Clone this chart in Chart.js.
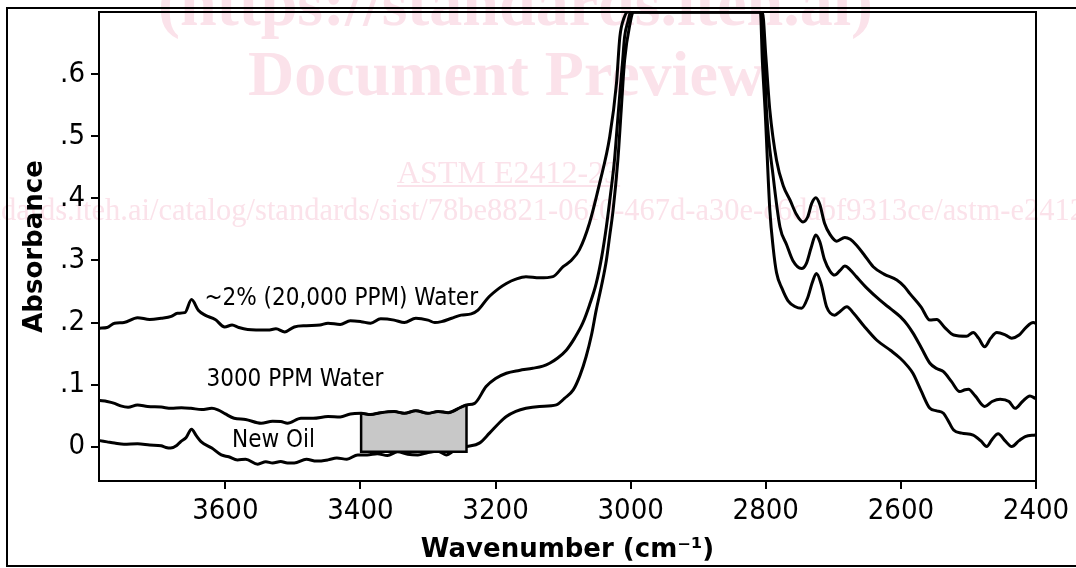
<!DOCTYPE html>
<html><head><meta charset="utf-8">
<script src="https://cdn.jsdelivr.net/npm/chart.js@4.4.0/dist/chart.umd.min.js"></script>
<style>
html,body{margin:0;padding:0;background:#fff;}
#wrap{position:relative;width:1076px;height:568px;overflow:hidden;background:#fff;}
#frame{position:absolute;left:6px;top:7px;width:1100px;height:556px;border:2px solid #000;pointer-events:none;}
canvas{position:absolute;left:0;top:0;}
</style></head><body>
<div id="wrap"><canvas id="c" width="1076" height="568"></canvas><div id="frame"></div></div>
<script>
// ---- tick labels ----
const xTickValues = [3600, 3400, 3200, 3000, 2800, 2600, 2400];
const xTickLabels = ['3600', '3400', '3200', '3000', '2800', '2600', '2400'];
const yTickValues = [0, 0.1, 0.2, 0.3, 0.4, 0.5, 0.6];
const yTickLabels = ['0', '.1', '.2', '.3', '.4', '.5', '.6'];

// ---- ~2% (20,000 PPM) water ----
const water2pctX = [3786,3775,3764,3750,3730,3712,3695,3680,3671,3660,3650,3640,3630,3615,3601,3590,3580,3567,3537,3525,3512,3498,3480,3460,3448,3430,3415,3399,3385,3370,3350,3335,3318,3300,3290,3280,3265,3251,3236,3226,3211,3195,3184,3170,3155,3135,3115,3100,3088,3076,3061,3046,3031,3021,3016,3010,3004,2805,2800,2794,2784,2774,2764,2755,2745,2738,2732,2726,2720,2713,2705,2695,2683,2675,2666,2655,2641,2625,2606,2595,2587,2570,2557,2547,2535,2522,2503,2493,2485,2476,2467,2458,2445,2436,2425,2415,2404,2400];
const water2pctY = [0.191,0.192,0.199,0.200,0.208,0.205,0.207,0.210,0.215,0.216,0.237,0.220,0.212,0.205,0.193,0.196,0.192,0.189,0.188,0.190,0.185,0.193,0.195,0.196,0.199,0.197,0.203,0.2015,0.199,0.206,0.204,0.200,0.207,0.204,0.200,0.2015,0.207,0.212,0.214,0.220,0.240,0.255,0.263,0.270,0.274,0.272,0.274,0.290,0.300,0.317,0.360,0.424,0.499,0.585,0.660,0.690,0.700,0.700,0.630,0.542,0.461,0.420,0.397,0.375,0.362,0.370,0.392,0.401,0.390,0.360,0.342,0.331,0.337,0.334,0.325,0.310,0.290,0.278,0.2685,0.258,0.247,0.225,0.204,0.205,0.192,0.180,0.178,0.184,0.175,0.161,0.175,0.184,0.180,0.175,0.180,0.192,0.200,0.199];

// ---- 3000 PPM water ----
const water3000X = [3786,3775,3764,3755,3744,3730,3715,3695,3680,3665,3651,3635,3620,3611,3600,3587,3570,3547,3530,3518,3508,3488,3470,3448,3430,3415,3399,3385,3370,3350,3335,3318,3300,3285,3270,3251,3243,3231,3214,3200,3184,3165,3145,3130,3120,3108,3095,3083,3071,3061,3051,3043,3036,3030,3024,3020,3016,3012,3009,3004,3000,2806,2802,2799,2789,2779,2769,2760,2747,2740,2733,2726,2720,2713,2705,2698,2690,2683,2675,2666,2650,2631,2615,2601,2590,2582,2570,2557,2547,2537,2525,2513,2505,2500,2490,2476,2465,2453,2440,2431,2420,2409,2401];
const water3000Y = [0.0745,0.073,0.070,0.066,0.0638,0.0675,0.065,0.064,0.062,0.063,0.062,0.060,0.062,0.0595,0.053,0.046,0.044,0.038,0.041,0.0407,0.038,0.046,0.046,0.0487,0.048,0.053,0.054,0.052,0.055,0.0568,0.054,0.058,0.054,0.057,0.055,0.064,0.0675,0.070,0.097,0.110,0.1185,0.123,0.1265,0.130,0.1346,0.143,0.156,0.175,0.199,0.228,0.263,0.305,0.354,0.405,0.461,0.515,0.569,0.620,0.660,0.685,0.700,0.700,0.620,0.542,0.435,0.354,0.325,0.300,0.287,0.295,0.320,0.341,0.330,0.301,0.283,0.2765,0.284,0.291,0.285,0.274,0.255,0.236,0.222,0.2095,0.196,0.183,0.160,0.1346,0.126,0.121,0.105,0.089,0.092,0.0927,0.082,0.065,0.073,0.0767,0.073,0.062,0.073,0.082,0.078];

// ---- New oil ----
const newOilX = [3786,3775,3764,3750,3730,3712,3695,3688,3681,3672,3666,3658,3650,3643,3636,3620,3606,3595,3582,3570,3552,3540,3530,3518,3508,3498,3480,3465,3448,3435,3420,3404,3390,3375,3360,3345,3330,3315,3300,3285,3273,3260,3243,3224,3209,3195,3184,3170,3155,3135,3110,3098,3085,3075,3066,3058,3051,3043,3036,3031,3026,3019,3014,3009,3001,2996,2808,2805,2801,2794,2789,2784,2776,2767,2757,2747,2738,2731,2725,2718,2710,2698,2690,2680,2670,2655,2636,2615,2601,2590,2582,2570,2557,2547,2537,2530,2522,2510,2493,2482,2473,2465,2456,2446,2436,2425,2416,2401];
const newOilY = [0.010,0.008,0.006,0.004,0.005,0.003,0.0016,-0.001,-0.002,0.002,0.0085,0.015,0.0284,0.018,0.0085,-0.002,-0.013,-0.016,-0.021,-0.020,-0.028,-0.024,-0.026,-0.0236,-0.026,-0.026,-0.020,-0.023,-0.021,-0.018,-0.020,-0.013,-0.013,-0.011,-0.014,-0.008,-0.012,-0.013,-0.009,-0.007,-0.013,-0.005,0.0005,0.006,0.022,0.038,0.0487,0.057,0.062,0.065,0.0675,0.078,0.0916,0.115,0.145,0.180,0.220,0.260,0.300,0.340,0.381,0.461,0.542,0.622,0.681,0.700,0.700,0.620,0.542,0.381,0.320,0.280,0.255,0.235,0.226,0.223,0.240,0.265,0.279,0.262,0.2256,0.212,0.218,0.2256,0.215,0.195,0.172,0.155,0.1426,0.130,0.118,0.090,0.062,0.058,0.054,0.042,0.027,0.022,0.019,0.010,0.0005,0.012,0.021,0.010,0.0005,0.010,0.0166,0.019];

// ---- shaded measurement region ----
const boxStart = 3399;
const boxEnd = 3243;
const boxBottom = -0.008;

// ---- curve labels ----
const curveLabels = ['~2% (20,000 PPM) Water', '3000 PPM Water', 'New Oil'];
const curveLabelX = [3631, 3628, 3590];
const curveLabelY = [0.228, 0.098, 0.0005];

// ---- watermark text ----
const wmLine1 = '(https://standards.iteh.ai)';
const wmLine2 = 'Document Preview';
const wmLine3 = 'ASTM E2412-23';
const wmPrefix = 'https://standards.iteh.ai';
const wmLine4 = 'https://standards.iteh.ai/catalog/standards/sist/78be8821-06f0-467d-a30e-c6dabf9313ce/astm-e2412-23';

const zip = (xs, ys) => xs.map((x, i) => ({x: x, y: ys[i]}));
const boxIdx = water3000X.map((x, i) => i).filter(i => water3000X[i] <= boxStart && water3000X[i] >= boxEnd);
const boxTop = boxIdx.map(i => ({x: water3000X[i], y: water3000Y[i]}));
const boxOutline = [
  {x: boxStart, y: boxTop[0].y}, {x: boxStart, y: boxBottom},
  {x: boxEnd, y: boxBottom}, {x: boxEnd, y: boxTop[boxTop.length - 1].y}
];

const tickFamily = "'DejaVu Sans Condensed', 'DejaVu Sans', sans-serif";
const PINK = 'rgb(251,226,234)';

const watermark = {
  id: 'watermark',
  beforeDraw(chart) {
    const ctx = chart.ctx;
    ctx.save();
    ctx.fillStyle = PINK;
    ctx.textAlign = 'left';
    ctx.textBaseline = 'alphabetic';
    ctx.font = "bold 66px 'Liberation Serif', serif";
    ctx.fillText(wmLine1, 158, 25);
    ctx.font = "bold 64px 'Liberation Serif', serif";
    ctx.fillText(wmLine2, 248, 95);
    ctx.font = "32px 'Liberation Serif', serif";
    ctx.fillText(wmLine3, 397, 183);
    const w3 = ctx.measureText(wmLine3).width;
    ctx.fillRect(397, 185, w3, 2);
    ctx.font = "30.5px 'Liberation Serif', serif";
    const pre = ctx.measureText(wmPrefix).width;
    ctx.fillText(wmLine4, 150 - pre, 220);
    ctx.restore();
  }
};

const curveText = {
  id: 'curveText',
  afterDatasetsDraw(chart) {
    const ctx = chart.ctx, xs = chart.scales.x, ys = chart.scales.y;
    ctx.save();
    ctx.fillStyle = '#000';
    ctx.font = "24px " + tickFamily;
    ctx.textAlign = 'left';
    ctx.textBaseline = 'alphabetic';
    curveLabels.forEach((t, i) => {
      ctx.fillText(t, xs.getPixelForValue(curveLabelX[i]), ys.getPixelForValue(curveLabelY[i]));
    });
    ctx.restore();
  }
};

const lineDs = (data, order) => ({
  data: data, order: order, showLine: true, borderColor: '#000', borderWidth: 3,
  pointRadius: 0, fill: false, cubicInterpolationMode: 'monotone', borderJoinStyle: 'round', borderCapStyle: 'round'
});

const noPad = s => { s.paddingTop = 0; s.paddingBottom = 0; s.paddingLeft = 0; s.paddingRight = 0; };

new Chart(document.getElementById('c'), {
  type: 'scatter',
  data: {
    datasets: [
      lineDs(zip(water2pctX, water2pctY), 1),
      lineDs(zip(water3000X, water3000Y), 2),
      {data: boxOutline, order: 3, showLine: true, borderColor: '#000', borderWidth: 2.5, pointRadius: 0, tension: 0, fill: false},
      {data: boxTop, order: 4, showLine: true, borderColor: '#000', borderWidth: 2.5, pointRadius: 0,
       cubicInterpolationMode: 'monotone', backgroundColor: '#c8c8c8',
       fill: {target: {value: boxBottom}, above: '#c8c8c8', below: '#c8c8c8'}},
      lineDs(zip(newOilX, newOilY), 5)
    ]
  },
  options: {
    responsive: false,
    animation: false,
    devicePixelRatio: 1,
    layout: {padding: {top: 12, right: 40, bottom: 0, left: 0}},
    plugins: {legend: {display: false}, tooltip: {enabled: false}},
    scales: {
      x: {
        type: 'linear', position: 'bottom', reverse: true, min: 2400, max: 3787,
        afterBuildTicks: s => { s.ticks = xTickValues.map(v => ({value: v})); },
        afterFit: s => { s.height = 87; noPad(s); },
        ticks: {color: '#000', font: {family: tickFamily, size: 29}, padding: 5, maxRotation: 0, autoSkip: false,
                callback: (v, i) => xTickLabels[i]},
        grid: {display: true, drawOnChartArea: false, drawTicks: true, tickLength: 8, color: '#000', lineWidth: 2},
        border: {display: true, color: '#000', width: 2},
        title: {display: true, text: 'Wavenumber (cm\u207B\u00B9)', color: '#000',
                font: {family: "'DejaVu Sans', sans-serif", weight: 'bold', size: 26}, padding: {top: 0, bottom: 2}}
      },
      y: {
        type: 'linear', position: 'left', min: -0.055, max: 0.70,
        afterBuildTicks: s => { s.ticks = yTickValues.map(v => ({value: v})); },
        afterFit: s => { s.width = 99; noPad(s); },
        ticks: {color: '#000', font: {family: tickFamily, size: 29}, padding: 6, autoSkip: false,
                callback: (v, i) => yTickLabels[i]},
        grid: {display: true, drawOnChartArea: false, drawTicks: true, tickLength: 8, color: '#000', lineWidth: 2},
        border: {display: true, color: '#000', width: 2},
        title: {display: true, text: 'Absorbance', color: '#000',
                font: {family: "'DejaVu Sans', sans-serif", weight: 'bold', size: 26}, padding: {top: 20, bottom: 0}}
      },
      x2: {
        type: 'linear', position: 'top', reverse: true, min: 2400, max: 3787,
        ticks: {display: false}, grid: {display: false},
        border: {display: true, color: '#000', width: 2},
        afterFit: s => { s.height = 0; noPad(s); }
      },
      y2: {
        type: 'linear', position: 'right', min: -0.055, max: 0.70,
        ticks: {display: false}, grid: {display: false},
        border: {display: true, color: '#000', width: 2},
        afterFit: s => { s.width = 0; noPad(s); }
      }
    }
  },
  plugins: [watermark, curveText]
});
</script>
</body></html>
